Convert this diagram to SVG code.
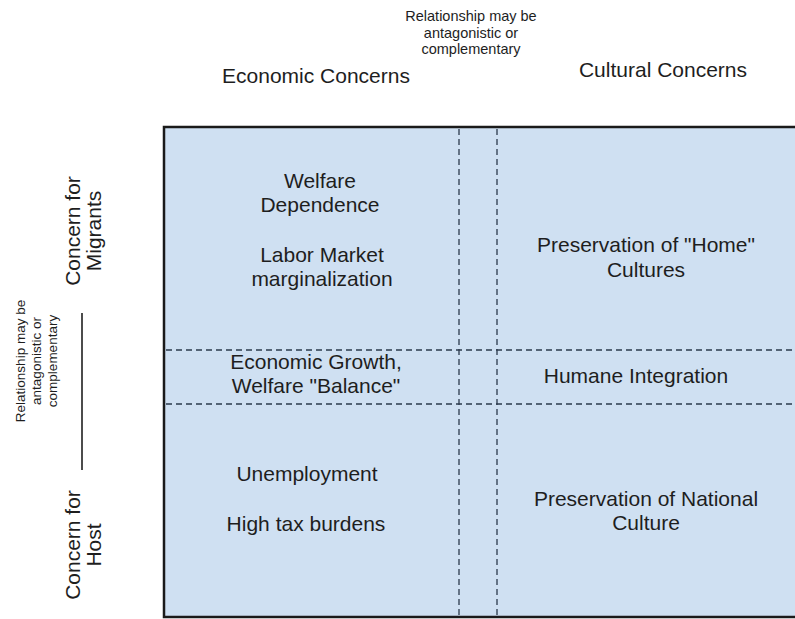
<svg xmlns="http://www.w3.org/2000/svg" width="795" height="619" viewBox="0 0 795 619">
  <style>
    text { font-family: "Liberation Sans", Arial, sans-serif; fill: #1e1e1e; }
    .big { font-size: 21px; text-anchor: middle; }
    .small { font-size: 14.5px; text-anchor: middle; }
    .side { font-size: 13.5px; text-anchor: middle; }
    .dash { stroke: #2b3a4c; stroke-width: 1.3; stroke-dasharray: 6 4; fill: none; }
  </style>
  <rect width="795" height="619" fill="#ffffff"/>

  <!-- matrix background -->
  <g id="matrix">
    <rect x="164" y="127" width="640" height="490" fill="#cfe0f2" stroke="#1a1a1a" stroke-width="2.5"/>
  </g>

  <!-- dashed dividers -->
  <g id="connectors">
    <line class="dash" x1="459" y1="129" x2="459" y2="616"/>
    <line class="dash" x1="497" y1="129" x2="497" y2="616"/>
    <line class="dash" x1="166" y1="350" x2="795" y2="350"/>
    <line class="dash" x1="166" y1="404" x2="795" y2="404"/>
    <line x1="82" y1="313" x2="82" y2="470" stroke="#111" stroke-width="1.5"/>
  </g>

  <!-- column headings -->
  <g id="head-relationship">
    <text class="small" x="471" y="21">Relationship may be</text>
    <text class="small" x="471" y="37.5">antagonistic or</text>
    <text class="small" x="471" y="54">complementary</text>
  </g>
  <g id="head-economic">
    <text class="big" x="316" y="83">Economic Concerns</text>
  </g>
  <g id="head-cultural">
    <text class="big" x="663" y="77">Cultural Concerns</text>
  </g>

  <!-- row headings -->
  <g id="row-migrants" transform="translate(0,231) rotate(-90)">
    <text class="big" x="0" y="80">Concern for</text>
    <text class="big" x="0" y="101">Migrants</text>
  </g>
  <g id="row-relationship" transform="translate(0,361) rotate(-90)">
    <text class="side" x="0" y="25">Relationship may be</text>
    <text class="side" x="0" y="41">antagonistic or</text>
    <text class="side" x="0" y="57">complementary</text>
  </g>
  <g id="row-host" transform="translate(0,545) rotate(-90)">
    <text class="big" x="0" y="80">Concern for</text>
    <text class="big" x="0" y="101">Host</text>
  </g>

  <!-- cells -->
  <g id="cell-econ-migrants">
    <text class="big" x="320" y="188">Welfare</text>
    <text class="big" x="320" y="212">Dependence</text>
    <text class="big" x="322" y="262">Labor Market</text>
    <text class="big" x="322" y="286">marginalization</text>
  </g>
  <g id="cell-culture-migrants">
    <text class="big" x="646" y="252">Preservation of "Home"</text>
    <text class="big" x="646" y="277">Cultures</text>
  </g>
  <g id="cell-econ-balance">
    <text class="big" x="316" y="369">Economic Growth,</text>
    <text class="big" x="316" y="393">Welfare "Balance"</text>
  </g>
  <g id="cell-culture-balance">
    <text class="big" x="636" y="383">Humane Integration</text>
  </g>
  <g id="cell-econ-host">
    <text class="big" x="307" y="481">Unemployment</text>
    <text class="big" x="306" y="531">High tax burdens</text>
  </g>
  <g id="cell-culture-host">
    <text class="big" x="646" y="506">Preservation of National</text>
    <text class="big" x="646" y="530">Culture</text>
  </g>
</svg>
